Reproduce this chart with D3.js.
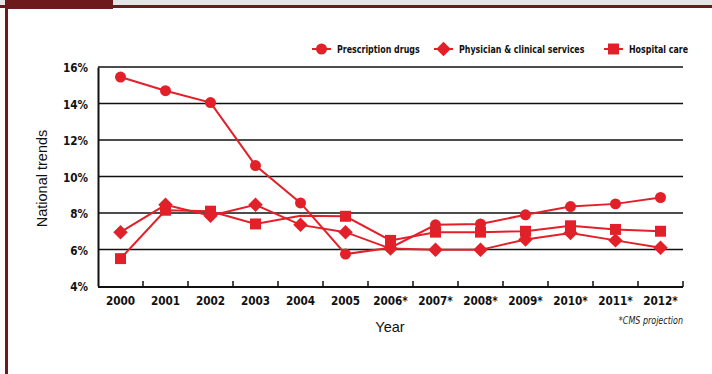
<!DOCTYPE html>
<html>
<head>
<meta charset="utf-8">
<script src="https://cdn.jsdelivr.net/npm/d3@7"></script>
<style>
  body { margin: 0; background: #fff; }
  svg { display: block; }
  .tick-label { font-family: "DejaVu Sans", sans-serif; font-weight: bold; font-size: 12.5px; fill: #111; }
  .note { font-family: "DejaVu Sans", sans-serif; font-style: italic; font-size: 10px; fill: #222; }
</style>
</head>
<body>
<div id="chart"></div>
<script>
const years = ["2000", "2001", "2002", "2003", "2004", "2005", "2006*", "2007*", "2008*", "2009*", "2010*", "2011*", "2012*"];
const prescription = [15.45, 14.7, 14.05, 10.6, 8.55, 5.75, 6.1, 7.35, 7.4, 7.9, 8.35, 8.5, 8.85];
const physician = [6.95, 8.45, 7.85, 8.45, 7.35, 6.95, 6.05, 5.98, 5.98, 6.55, 6.9, 6.5, 6.1];
const hospital = [5.5, 8.15, 8.1, 7.4, 7.85, 7.82, 6.5, 6.95, 6.95, 7.0, 7.3, 7.1, 7.0];
const hospitalNoMarker = ["2004"];
const yTicks = [4, 6, 8, 10, 12, 14, 16];

const width = 712;
const height = 374;
const margin = { top: 67, right: 29, bottom: 88, left: 98 };
const red = "#e2202a";
const maroon = "#6c1a1b";
const squeeze = 0.84; // fake a condensed face

const svg = d3.select("#chart").append("svg")
    .attr("width", width)
    .attr("height", height);

// frame
svg.append("rect").attr("x", 0).attr("y", 0).attr("width", width).attr("height", 5).attr("fill", "#e4e5e6");
svg.append("rect").attr("x", 0).attr("y", 5).attr("width", width).attr("height", 3).attr("fill", maroon);
svg.append("rect").attr("x", 5).attr("y", 0).attr("width", 108).attr("height", 9).attr("fill", maroon);
svg.append("rect").attr("x", 5).attr("y", 0).attr("width", 3).attr("height", height).attr("fill", maroon);

const x = d3.scaleBand().domain(years).range([margin.left, width - margin.right]);
const y = d3.scaleLinear().domain([4, 16]).range([height - margin.bottom, margin.top]);

// gridlines
svg.append("g").selectAll("line")
    .data(yTicks.filter(d => d > 4))
    .join("line")
    .attr("x1", margin.left).attr("x2", width - margin.right)
    .attr("y1", d => y(d)).attr("y2", d => y(d))
    .attr("stroke", "#111").attr("stroke-width", 1.5);

// y axis
const yAxis = svg.append("g")
    .attr("transform", `translate(${margin.left},0)`)
    .call(d3.axisLeft(y).tickValues(yTicks).tickSize(0).tickPadding(0).tickFormat(d => d + "%"));
yAxis.select(".domain").attr("stroke", "#111").attr("stroke-width", 2);
yAxis.selectAll(".tick text")
    .attr("class", "tick-label")
    .attr("x", null)
    .attr("dy", "0.36em")
    .attr("transform", `translate(-10,0) scale(${squeeze},1)`);

// x axis with boundary ticks pointing up
const xBase = y(4) + 1;
svg.append("line")
    .attr("x1", margin.left).attr("x2", width - margin.right)
    .attr("y1", xBase).attr("y2", xBase)
    .attr("stroke", "#111").attr("stroke-width", 2);
svg.append("g").selectAll("line")
    .data(years.slice(1).concat(["end"]))
    .join("line")
    .attr("x1", d => d === "end" ? x.range()[1] : x(d))
    .attr("x2", d => d === "end" ? x.range()[1] : x(d))
    .attr("y1", xBase).attr("y2", xBase - 6)
    .attr("stroke", "#111").attr("stroke-width", 1.5);
svg.append("g").selectAll("text")
    .data(years)
    .join("text")
    .attr("class", "tick-label")
    .attr("transform", d => `translate(${x(d) + x.bandwidth() / 2},${xBase + 18}) scale(${squeeze},1)`)
    .attr("text-anchor", "middle")
    .text(d => d);

// axis titles
svg.append("text")
    .attr("transform", `translate(47,${(margin.top + height - margin.bottom) / 2 + 2}) rotate(-90)`)
    .attr("text-anchor", "middle")
    .attr("font-family", "Liberation Sans, Arial, sans-serif")
    .attr("font-size", 14.5)
    .attr("fill", "#111")
    .text("National trends");
svg.append("text")
    .attr("x", 390).attr("y", 332)
    .attr("text-anchor", "middle")
    .attr("font-family", "Liberation Sans, Arial, sans-serif")
    .attr("font-size", 14.5)
    .attr("fill", "#111")
    .text("Year");
svg.append("text")
    .attr("class", "note")
    .attr("transform", `translate(683,324) scale(0.8,1)`)
    .attr("text-anchor", "end")
    .text("*CMS projection");

const cx = d => x(d) + x.bandwidth() / 2;
const symbols = {
    circle: d3.symbol().type(d3.symbolCircle).size(95),
    diamond: d3.symbol().type(d3.symbolSquare).size(105),
    square: d3.symbol().type(d3.symbolSquare).size(120)
};

const series = [
    { name: "Hospital care", values: hospital, marker: "square", skip: hospitalNoMarker },
    { name: "Physician & clinical services", values: physician, marker: "diamond", skip: [] },
    { name: "Prescription drugs", values: prescription, marker: "circle", skip: [] }
];

const line = d3.line().x((d, i) => cx(years[i])).y(d => y(d));

series.forEach(s => {
    svg.append("path")
        .datum(s.values)
        .attr("fill", "none")
        .attr("stroke", red)
        .attr("stroke-width", 2)
        .attr("d", line);
    svg.append("g").selectAll("path")
        .data(s.values.map((v, i) => ({ v, yr: years[i] })).filter(d => !s.skip.includes(d.yr)))
        .join("path")
        .attr("d", symbols[s.marker])
        .attr("fill", red)
        .attr("transform", d => `translate(${cx(d.yr)},${y(d.v)})` + (s.marker === "diamond" ? " rotate(45)" : ""));
});

// legend
const legend = [
    { name: "Prescription drugs", marker: "circle", x: 312 },
    { name: "Physician & clinical services", marker: "diamond", x: 434 },
    { name: "Hospital care", marker: "square", x: 604 }
];
const lg = svg.append("g").selectAll("g").data(legend).join("g")
    .attr("transform", d => `translate(${d.x},49)`);
lg.append("line").attr("x1", 0).attr("x2", 19).attr("stroke", red).attr("stroke-width", 2);
lg.append("path")
    .attr("d", d => symbols[d.marker]())
    .attr("fill", red)
    .attr("transform", d => "translate(9.5,0)" + (d.marker === "diamond" ? " rotate(45)" : ""));
lg.append("text")
    .attr("class", "tick-label")
    .attr("transform", "translate(25,0) scale(0.72,1)")
    .attr("dy", "0.36em")
    .style("font-size", "11px")
    .text(d => d.name);
</script>
</body>
</html>
